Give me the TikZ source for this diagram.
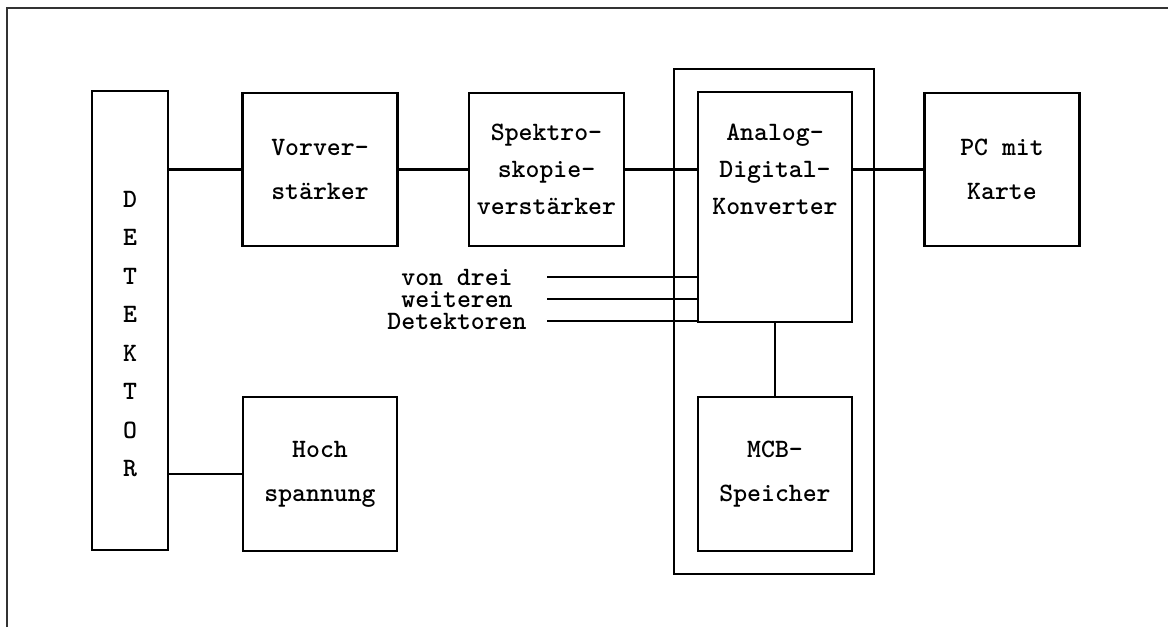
\documentclass[tikz,border=0pt]{standalone}
\begin{document}
\begin{tikzpicture}[x=1pt,y=-1pt,
  box/.style={draw,line width=2.3pt,inner sep=0pt,align=center},
  two/.style={font=\fontsize{26.5}{44}\selectfont\ttfamily\bfseries},
  three/.style={font=\fontsize{26.5}{37}\selectfont\ttfamily\bfseries},
  conn/.style={line width=2.3pt},
  frameline/.style={line width=1.4pt,draw=black!80}]
\useasboundingbox (0,0) rectangle (1168,627);
\draw[frameline] (7,627) -- (7,8) -- (1168,8);
% boxes
\node[box,minimum width=76,minimum height=459] (det) at (130,320.5) {};
\node[align=center,inner sep=0pt,font=\fontsize{26.5}{38.5}\selectfont\ttfamily\bfseries] (dettext) at (130,334) {D\\E\\T\\E\\K\\T\\O\\R};
\node[box,two,minimum width=155,minimum height=153] (vor) at (320,169.5) {Vorver-\\stärker};
\node[box,three,minimum width=155,minimum height=153] (spek) at (546.5,169.5) {Spektro-\\skopie-\\verstärker};
\node[box,two,minimum width=155,minimum height=153] (pc) at (1002,169.5) {PC mit\\Karte};
\node[draw,line width=1.8pt,minimum width=200,minimum height=505,inner sep=0pt] (frame) at (774,321.5) {};
\node[box,minimum width=154,minimum height=230] (adc) at (775,207) {};
\node[three,align=center,inner sep=0pt] (adctext) at (775,169) {Analog-\\Digital-\\Konverter};
\node[box,two,minimum width=154,minimum height=154] (hoch) at (320,474) {Hoch\\spannung};
\node[box,two,minimum width=154,minimum height=154] (mcb) at (775,474) {MCB-\\Speicher};
\node[align=center,inner sep=0pt,font=\fontsize{26.5}{22}\selectfont\ttfamily\bfseries] (vd) at (457,299) {von drei\\weiteren\\Detektoren};
% connectors
\draw[conn] (det.east |- vor.west) -- (vor.west);
\draw[conn] (vor.east) -- (spek.west);
\draw[conn] (spek.east) -- (spek.east -| adc.west);
\draw[conn] (adc.east |- pc.west) -- (pc.west);
\draw[conn] (det.east |- hoch.west) -- (hoch.west);
\draw[conn] (adc.south) -- (mcb.north);
\coordinate (i1) at (547,277);
\coordinate (i2) at (547,299);
\coordinate (i3) at (547,321);
\draw[conn] (i1) -- (i1 -| adc.west);
\draw[conn] (i2) -- (i2 -| adc.west);
\draw[conn] (i3) -- (i3 -| adc.west);
\end{tikzpicture}
\end{document}
